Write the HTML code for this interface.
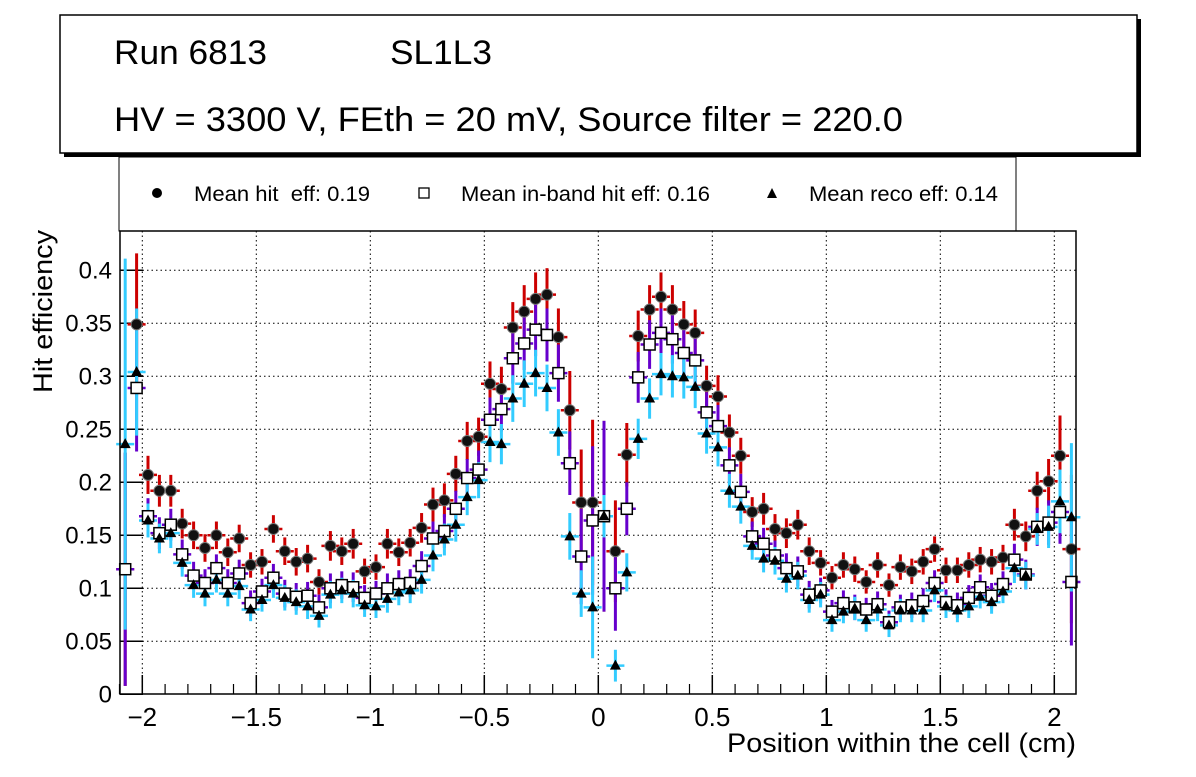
<!DOCTYPE html>
<html><head><meta charset="utf-8"><style>
body{margin:0;background:#fff;width:1196px;height:772px;overflow:hidden;font-family:"Liberation Sans",sans-serif}
svg text{font-family:"Liberation Sans",sans-serif;white-space:pre}
</style></head><body>
<svg id="c" width="1196" height="772" xmlns="http://www.w3.org/2000/svg">
<rect x="64" y="19" width="1077" height="138" fill="#000"/>
<rect x="60" y="15" width="1077" height="138" fill="#fff" stroke="#000" stroke-width="1.5"/>
<text x="114" y="64" font-size="34" textLength="153" lengthAdjust="spacingAndGlyphs">Run 6813</text>
<text x="390" y="64" font-size="34" textLength="102" lengthAdjust="spacingAndGlyphs">SL1L3</text>
<text x="114" y="131" font-size="34" textLength="789" lengthAdjust="spacingAndGlyphs">HV = 3300 V, FEth = 20 mV, Source filter = 220.0</text>
<rect x="119" y="157" width="897" height="74" fill="#fff" stroke="#000" stroke-width="1"/>
<g><circle cx="157" cy="193" r="5" fill="#000"/><text x="194" y="201" font-size="21" textLength="176" lengthAdjust="spacingAndGlyphs">Mean hit  eff: 0.19</text></g>
<g><rect x="419" y="188" width="10" height="10" fill="#fff" stroke="#000" stroke-width="1.3"/><text x="461" y="201" font-size="21" textLength="249" lengthAdjust="spacingAndGlyphs">Mean in-band hit eff: 0.16</text></g>
<g><polygon points="772,188 777,198 767,198" fill="#000"/><text x="809" y="201" font-size="21" textLength="189" lengthAdjust="spacingAndGlyphs">Mean reco eff: 0.14</text></g>
<g id="grid"></g><g id="axes"></g><g id="bars"></g><g id="marks"></g>
<rect x="120" y="231" width="956" height="463" fill="none" stroke="#000" stroke-width="1.5"/>
<text x="1076" y="752" font-size="27" text-anchor="end" textLength="349" lengthAdjust="spacingAndGlyphs">Position within the cell (cm)</text>
<text transform="translate(52,393) rotate(-90)" font-size="27" textLength="163" lengthAdjust="spacingAndGlyphs">Hit efficiency</text>
</svg>
<script>
const hitVals=[0.118,0.349,0.207,0.192,0.192,0.161,0.150,0.138,0.150,0.134,0.147,0.122,0.125,0.156,0.135,
0.125,0.128,0.106,0.140,0.135,0.142,0.116,0.120,0.142,0.134,0.143,0.157,0.179,0.183,
0.208,0.239,0.243,0.293,0.288,0.346,0.361,0.373,0.377,0.337,0.268,0.181,0.181,0.168,0.135,0.226,
0.338,0.363,0.375,0.363,0.349,0.341,0.291,0.281,0.247,0.225,0.172,0.175,
0.156,0.152,0.160,0.135,0.124,0.110,0.122,0.118,0.106,0.122,0.103,0.120,0.116,0.125,
0.137,0.117,0.117,0.122,0.127,0.125,0.129,0.160,0.149,0.192,0.201,0.225,0.137];
const inbandVals=[0.118,0.289,0.168,0.152,0.160,0.132,0.112,0.105,0.119,0.105,0.114,0.086,0.097,0.110,0.095,
0.092,0.093,0.082,0.100,0.103,0.101,0.091,0.095,0.100,0.104,0.105,0.121,0.147,0.154,
0.175,0.204,0.212,0.259,0.269,0.317,0.331,0.344,0.339,0.303,0.218,0.130,0.164,0.168,0.100,0.175,
0.299,0.330,0.341,0.335,0.322,0.315,0.266,0.253,0.216,0.191,0.149,0.142,
0.131,0.119,0.116,0.094,0.098,0.078,0.086,0.082,0.080,0.085,0.068,0.082,0.084,0.088,
0.105,0.087,0.084,0.091,0.101,0.093,0.104,0.127,0.113,0.158,0.162,0.172,0.106];
const recoVals=[0.236,0.304,0.164,0.147,0.152,0.124,0.103,0.095,0.108,0.095,0.102,0.080,0.089,0.103,0.091,
0.087,0.083,0.074,0.094,0.098,0.095,0.084,0.083,0.090,0.096,0.098,0.108,0.131,0.146,
0.160,0.186,0.202,0.238,0.236,0.279,0.293,0.303,0.289,0.247,0.149,0.095,0.082,0.168,0.027,0.115,
0.241,0.279,0.302,0.300,0.299,0.290,0.246,0.233,0.192,0.177,0.140,0.128,
0.126,0.109,0.112,0.089,0.094,0.070,0.078,0.081,0.070,0.080,0.065,0.079,0.079,0.079,
0.098,0.083,0.079,0.083,0.092,0.087,0.097,0.119,0.112,0.156,0.158,0.182,0.167];
const hitErr=[0.11,0.067,0.018,0.015,0.015,0.014,0.013,0.013,0.013,0.013,0.013,0.012,0.012,0.013,0.013,
0.013,0.013,0.012,0.014,0.013,0.014,0.012,0.012,0.014,0.013,0.013,0.014,0.016,0.016,
0.017,0.018,0.018,0.021,0.021,0.024,0.025,0.025,0.025,0.027,0.037,0.05,0.078,0.09,0.048,0.03,
0.024,0.023,0.023,0.023,0.022,0.022,0.019,0.020,0.017,0.017,0.014,0.015,
0.014,0.014,0.014,0.013,0.012,0.011,0.012,0.012,0.011,0.012,0.011,0.012,0.012,0.012,
0.012,0.012,0.012,0.012,0.012,0.012,0.012,0.015,0.014,0.018,0.021,0.038,0.07];
const inbandErr=[0.11,0.06,0.017,0.015,0.015,0.014,0.013,0.013,0.013,0.013,0.013,0.012,0.012,0.013,0.013,
0.013,0.013,0.012,0.014,0.013,0.014,0.012,0.012,0.014,0.013,0.013,0.014,0.016,0.016,
0.017,0.018,0.018,0.021,0.021,0.024,0.025,0.025,0.025,0.027,0.03,0.045,0.07,0.09,0.04,0.025,
0.024,0.023,0.023,0.023,0.022,0.022,0.019,0.020,0.017,0.017,0.014,0.015,
0.014,0.014,0.014,0.013,0.012,0.011,0.012,0.012,0.011,0.012,0.011,0.012,0.012,0.012,
0.012,0.012,0.012,0.012,0.012,0.012,0.012,0.015,0.014,0.018,0.021,0.03,0.06];
const recoErr=[0.175,0.06,0.016,0.014,0.014,0.013,0.012,0.012,0.012,0.012,0.012,0.011,0.011,0.012,0.012,
0.012,0.012,0.011,0.013,0.012,0.013,0.011,0.011,0.013,0.012,0.012,0.013,0.015,0.015,
0.016,0.017,0.017,0.019,0.019,0.022,0.022,0.022,0.022,0.022,0.022,0.022,0.048,0.02,0.015,0.018,
0.019,0.019,0.02,0.02,0.02,0.02,0.019,0.018,0.016,0.016,0.013,0.013,
0.013,0.013,0.013,0.012,0.012,0.011,0.011,0.011,0.011,0.011,0.011,0.011,0.011,0.011,
0.011,0.011,0.011,0.011,0.011,0.011,0.011,0.014,0.013,0.015,0.02,0.03,0.07];
const xTicks=[-2,-1.5,-1,-0.5,0,0.5,1,1.5,2];
const xTickLabels=["\u22122","\u22121.5","\u22121","\u22120.5","0","0.5","1","1.5","2"];
const yTicks=[0,0.05,0.1,0.15,0.2,0.25,0.3,0.35,0.4];
const yTickLabels=["0","0.05","0.1","0.15","0.2","0.25","0.3","0.35","0.4"];
const binStart=-2.075, binWidth=0.05;

const NS="http://www.w3.org/2000/svg";
const X=v=>598.3+228*v, Y=v=>694.3-1060*v;
function mk(tag,attrs,parent){const e=document.createElementNS(NS,tag);for(const k in attrs)e.setAttribute(k,attrs[k]);parent.appendChild(e);return e;}
const grid=document.getElementById('grid'),axes=document.getElementById('axes'),bars=document.getElementById('bars'),marks=document.getElementById('marks');
xTicks.forEach((t,i)=>{
  const g=mk('line',{x1:X(t),x2:X(t),y1:231,y2:694,stroke:'#000','stroke-width':1,'stroke-dasharray':'1.5,3'},grid);
  
  
  const tk=mk('line',{x1:X(t),x2:X(t),y1:694,y2:675,stroke:'#000','stroke-width':1.5},axes);
  
  
  const tx=mk('text',{x:X(t),y:726,'font-size':26,'text-anchor':'middle'},axes);
  tx.textContent=xTickLabels[i];
  
  
});
for(let m=-2.1;m<=2.1;m+=0.1){const v=Math.round(m*10)/10;if(Math.abs(v*2-Math.round(v*2))<1e-6)continue;
  const tk=mk('line',{x1:X(v),x2:X(v),y1:694,y2:684,stroke:'#000','stroke-width':1.2},axes);
  
  }
yTicks.forEach((t,i)=>{
  if(t>0){const g=mk('line',{x1:120,x2:1076,y1:Y(t),y2:Y(t),stroke:'#000','stroke-width':1,'stroke-dasharray':'1.5,3'},grid);
  
  }
  const tk=mk('line',{x1:120,x2:143,y1:Y(t),y2:Y(t),stroke:'#000','stroke-width':1.5},axes);
  
  
  const tx=mk('text',{x:112,y:Y(t)+8,'font-size':24,'text-anchor':'end'},axes);
  tx.textContent=yTickLabels[i];
  
  
});
const series=[{v:hitVals,e:hitErr,c:'#cc0000',n:'hit'},{v:inbandVals,e:inbandErr,c:'#6600cc',n:'inband'},{v:recoVals,e:recoErr,c:'#33ccff',n:'reco'}];
series.forEach(s=>{
  s.v.forEach((val,k)=>{
    const cx=X(binStart+binWidth*k),cy=Y(val),er=s.e[k];
    const lo=Math.max(0,val-er),hi=Math.min(0.435,val+er);
    const b=mk('line',{x1:cx,x2:cx,y1:Y(lo),y2:Y(hi),stroke:s.c,'stroke-width':3},bars);
    
    
    const h=mk('line',{x1:cx-9,x2:cx+9,y1:cy,y2:cy,stroke:s.c,'stroke-width':2.5},bars);
    
    
  });
});
series.forEach(s=>{
  s.v.forEach((val,k)=>{
    const cx=X(binStart+binWidth*k),cy=Y(val);
    let m;
    if(s.n==='hit') m=mk('circle',{cx:cx,cy:cy,r:5.5,fill:'#111',stroke:'#777','stroke-width':1},marks);
    else if(s.n==='inband') m=mk('rect',{x:cx-5.5,y:cy-5.5,width:11,height:11,fill:'#fff',stroke:'#000','stroke-width':1.5},marks);
    else m=mk('polygon',{points:`${cx},${cy-6} ${cx+5.5},${cy+4} ${cx-5.5},${cy+4}`,fill:'#000'},marks);
    
    
  });
});
</script>
</body></html>
